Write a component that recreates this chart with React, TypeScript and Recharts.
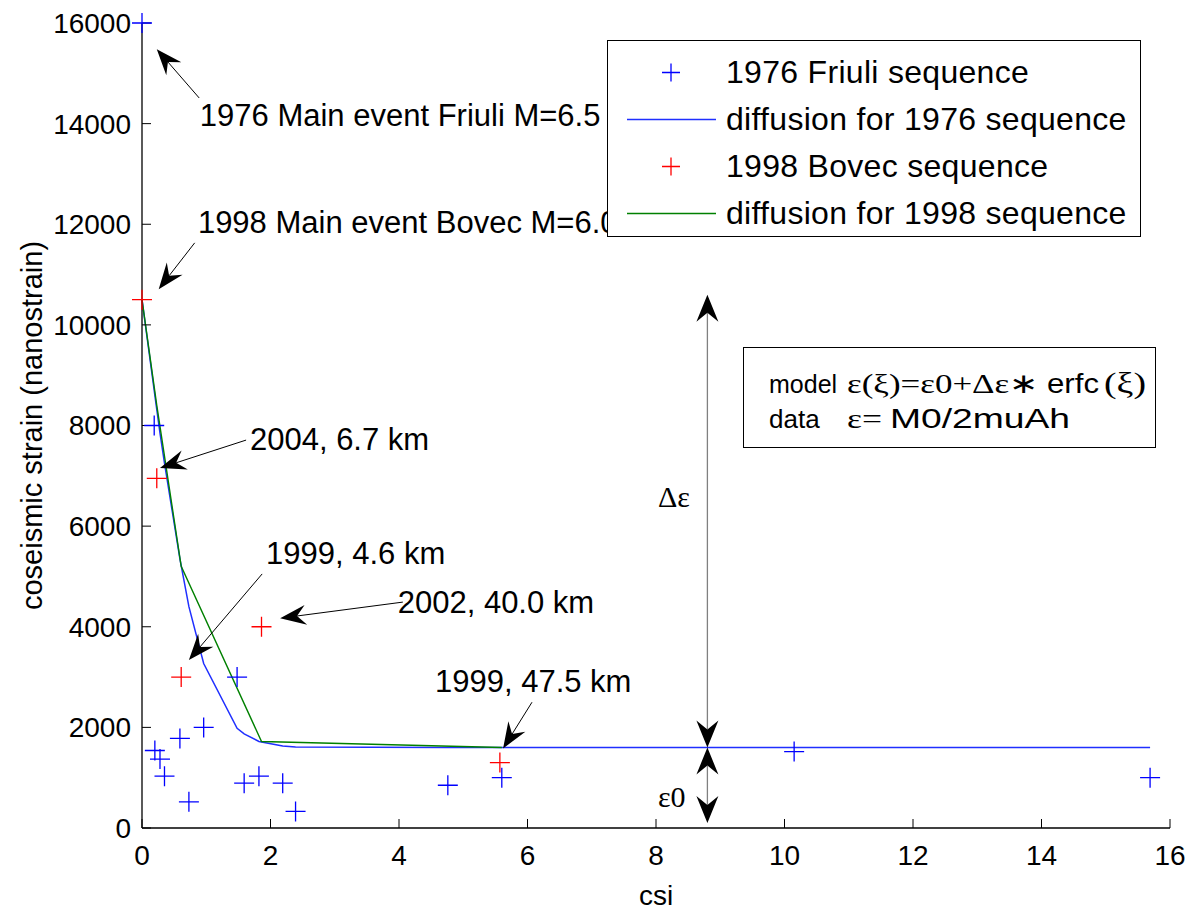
import React from "react";
import {
  ComposedChart,
  Line,
  Scatter,
  XAxis,
  YAxis,
  Legend,
  ReferenceLine,
  ReferenceDot,
} from "recharts";

const SANS = "Arial, 'Liberation Sans', Helvetica, sans-serif";
const SERIF = "'Times New Roman', 'Liberation Serif', Times, serif";

const xTicks = [0, 2, 4, 6, 8, 10, 12, 14, 16];
const yTicks = [0, 2000, 4000, 6000, 8000, 10000, 12000, 14000, 16000];

// 1976 Friuli sequence (blue crosses)
const friuliCsi = [0, 0.19, 1.48, 0.96, 0.59, 0.2, 0.28, 0.35, 0.73, 1.59, 1.82, 2.19, 2.39, 4.76, 5.6, 10.15, 15.69];
const friuliStrain = [16000, 8000, 3000, 2000, 1780, 1540, 1370, 1030, 520, 890, 1030, 890, 330, 850, 1000, 1520, 1000];

// 1998 Bovec sequence (red crosses)
const bovecCsi = [0, 0.23, 0.61, 1.86, 5.57];
const bovecStrain = [10500, 6950, 3000, 4000, 1300];

// diffusion model curves
const fit1976Csi = [0, 0.19, 0.2, 0.28, 0.35, 0.59, 0.73, 0.96, 1.48, 1.59, 1.82, 2.19, 2.39, 4.76, 5.6, 10.15, 15.69];
const fit1976Strain = [10500, 8700, 8600, 7850, 7250, 5350, 4400, 3270, 1980, 1870, 1720, 1630, 1610, 1600, 1600, 1600, 1600];
const fit1998Csi = [0, 0.23, 0.61, 1.86, 5.6];
const fit1998Strain = [10500, 8400, 5200, 1720, 1600];

// annotations, in data units
const noteText = [
  "1976 Main event Friuli M=6.5",
  "1998 Main event Bovec M=6.0",
  "2004, 6.7 km",
  "1999, 4.6 km",
  "2002, 40.0 km",
  "1999, 47.5 km",
];
const noteAt = [[0.9, 13950], [0.87, 11830], [1.68, 7510], [1.93, 5250], [3.98, 4270], [4.56, 2700]];
const arrowFrom = [[0.89, 14510], [0.82, 11630], [1.62, 7710], [1.87, 5050], [4.06, 4490], [6.07, 2500]];
const arrowTo = [[0.23, 15480], [0.26, 10710], [0.28, 7155], [0.73, 3340], [2.15, 4170], [5.62, 1580]];

const gapCsi = 8.8;
const deltaSpan = [1600, 10600];
const baseSpan = [1600, 100];

const legendOrder = [
  "1976 Friuli sequence",
  "diffusion for 1976 sequence",
  "1998 Bovec sequence",
  "diffusion for 1998 sequence",
];

const pts = (xs: number[], ys: number[]) => xs.map((x, i) => ({ x, y: ys[i] }));

function cross(cx: number, cy: number, color: string, half: number) {
  return (
    <path
      d={`M${cx - half},${cy}H${cx + half}M${cx},${cy - half}V${cy + half}`}
      stroke={color}
      strokeWidth={1.3}
      fill="none"
    />
  );
}

function head(x1: number, y1: number, x2: number, y2: number, len = 26, half = 10, notch = 17) {
  const dx = x2 - x1;
  const dy = y2 - y1;
  const d = Math.hypot(dx, dy) || 1;
  const ux = dx / d;
  const uy = dy / d;
  const nx = -uy;
  const ny = ux;
  const bx = x2 - ux * len;
  const by = y2 - uy * len;
  const mx = x2 - ux * notch;
  const my = y2 - uy * notch;
  return {
    poly: `${x2},${y2} ${bx + nx * half},${by + ny * half} ${mx},${my} ${bx - nx * half},${by - ny * half}`,
    mx,
    my,
  };
}

const arrowShape = (p: any) => {
  const h = head(p.x1, p.y1, p.x2, p.y2);
  return (
    <g>
      <line x1={p.x1} y1={p.y1} x2={h.mx} y2={h.my} stroke="#000" strokeWidth={1} />
      <polygon points={h.poly} fill="#000" />
    </g>
  );
};

const doubleArrowShape = (p: any) => {
  const a = head(p.x1, p.y1, p.x2, p.y2, 27, 11, 18);
  const b = head(p.x2, p.y2, p.x1, p.y1, 27, 11, 18);
  return (
    <g>
      <line x1={b.mx} y1={b.my} x2={a.mx} y2={a.my} stroke="#808080" strokeWidth={1.3} />
      <polygon points={a.poly} fill="#000" />
      <polygon points={b.poly} fill="#000" />
    </g>
  );
};

const textShape = (label: string, size: number, family: string) => (p: any) => (
  <text x={p.cx} y={p.cy} fontSize={size} fontFamily={family} fill="#000">
    {label}
  </text>
);

const renderLegend = (props: any) => {
  const payload: any[] = props.payload ?? [];
  const items = legendOrder
    .map((name) => payload.find((p) => p.value === name))
    .filter(Boolean);
  return (
    <div
      style={{
        width: 534,
        height: 197,
        boxSizing: "border-box",
        border: "1px solid #000",
        background: "#fff",
        paddingTop: 8,
        fontFamily: SANS,
        fontSize: 32,
        letterSpacing: 0.3,
        color: "#000",
      }}
    >
      {items.map((item: any) => (
        <div key={item.value} style={{ display: "flex", alignItems: "center", height: 47 }}>
          <svg width={118} height={47} style={{ flex: "none" }}>
            {item.type === "line" ? (
              <line x1={19} y1={23.5} x2={108} y2={23.5} stroke={item.color} strokeWidth={1.5} />
            ) : (
              cross(63, 23.5, item.color, 9)
            )}
          </svg>
          <span style={{ whiteSpace: "nowrap" }}>{item.value}</span>
        </div>
      ))}
    </div>
  );
};

export default function App() {
  const tickStyle = { fontSize: 28, fontFamily: SANS, fill: "#000" };
  return (
    <div style={{ position: "relative", width: 1185, height: 903, background: "#fff" }}>
      <ComposedChart width={1185} height={903} margin={{ top: 15, right: 23, bottom: 0, left: 0 }}>
        <XAxis
          type="number"
          dataKey="x"
          domain={[0, 16]}
          ticks={xTicks}
          interval={0}
          height={83}
          tickSize={-9}
          tickMargin={26}
          tick={tickStyle}
          axisLine={{ stroke: "#000", strokeWidth: 1.3 }}
          tickLine={{ stroke: "#000" }}
          label={{
            content: (lp: any) => (
              <text
                x={lp.viewBox.x + lp.viewBox.width / 2}
                y={lp.viewBox.y + 77}
                textAnchor="middle"
                fontSize={28}
                fontFamily={SANS}
                fill="#000"
              >
                csi
              </text>
            ),
          }}
        />
        <XAxis
          xAxisId="top"
          orientation="top"
          type="number"
          domain={[0, 16]}
          ticks={xTicks}
          interval={0}
          height={0}
          tickSize={-9}
          tick={false}
          axisLine={{ stroke: "#000", strokeWidth: 1.3 }}
          tickLine={{ stroke: "#000" }}
        />
        <YAxis
          type="number"
          dataKey="y"
          domain={[0, 16000]}
          ticks={yTicks}
          interval={0}
          width={134}
          tickSize={-9}
          tickMargin={20}
          tick={tickStyle}
          axisLine={{ stroke: "#000", strokeWidth: 1.3 }}
          tickLine={{ stroke: "#000" }}
          label={{
            content: (lp: any) => {
              const cx = 24;
              const cy = lp.viewBox.y + lp.viewBox.height / 2;
              return (
                <text
                  x={cx}
                  y={cy}
                  transform={`rotate(-90, ${cx}, ${cy})`}
                  textAnchor="middle"
                  dominantBaseline="central"
                  fontSize={29}
                  fontFamily={SANS}
                  fill="#000"
                >
                  coseismic strain (nanostrain)
                </text>
              );
            },
          }}
        />
        <YAxis
          yAxisId="right"
          orientation="right"
          type="number"
          domain={[0, 16000]}
          ticks={yTicks}
          interval={0}
          width={0}
          tickSize={-9}
          tick={false}
          axisLine={{ stroke: "#000", strokeWidth: 1.3 }}
          tickLine={{ stroke: "#000" }}
        />

        <Scatter
          name="1976 Friuli sequence"
          data={pts(friuliCsi, friuliStrain)}
          fill="#0000ff"
          legendType="cross"
          isAnimationActive={false}
          shape={(p: any) => cross(p.cx, p.cy, "#0000ff", 10)}
        />
        <Line
          name="diffusion for 1976 sequence"
          data={pts(fit1976Csi, fit1976Strain)}
          dataKey="y"
          type="linear"
          stroke="#1f2fff"
          strokeWidth={1.5}
          dot={false}
          legendType="line"
          isAnimationActive={false}
        />
        <Scatter
          name="1998 Bovec sequence"
          data={pts(bovecCsi, bovecStrain)}
          fill="#ff0000"
          legendType="cross"
          isAnimationActive={false}
          shape={(p: any) => cross(p.cx, p.cy, "#ff0000", 10)}
        />
        <Line
          name="diffusion for 1998 sequence"
          data={pts(fit1998Csi, fit1998Strain)}
          dataKey="y"
          type="linear"
          stroke="#008000"
          strokeWidth={1.4}
          dot={false}
          legendType="line"
          isAnimationActive={false}
        />

        {noteText.map((t, i) => (
          <ReferenceLine
            key={`arrow-${i}`}
            segment={[
              { x: arrowFrom[i][0], y: arrowFrom[i][1] },
              { x: arrowTo[i][0], y: arrowTo[i][1] },
            ]}
            ifOverflow="visible"
            shape={arrowShape}
          />
        ))}
        {noteText.map((t, i) => (
          <ReferenceDot
            key={`note-${i}`}
            x={noteAt[i][0]}
            y={noteAt[i][1]}
            r={0}
            ifOverflow="visible"
            shape={textShape(t, 31, SANS)}
          />
        ))}

        <ReferenceLine
          segment={[
            { x: gapCsi, y: deltaSpan[0] },
            { x: gapCsi, y: deltaSpan[1] },
          ]}
          ifOverflow="visible"
          shape={doubleArrowShape}
        />
        <ReferenceLine
          segment={[
            { x: gapCsi, y: baseSpan[0] },
            { x: gapCsi, y: baseSpan[1] },
          ]}
          ifOverflow="visible"
          shape={doubleArrowShape}
        />
        <ReferenceDot x={8.03} y={6380} r={0} ifOverflow="visible" shape={textShape("Δε", 30, SERIF)} />
        <ReferenceDot x={8.03} y={417} r={0} ifOverflow="visible" shape={textShape("ε0", 30, SERIF)} />

        <Legend
          layout="horizontal"
          verticalAlign="middle"
          align="center"
          content={renderLegend}
          wrapperStyle={{ left: 599, top: 32, width: 534, height: 197 }}
        />
      </ComposedChart>

      <svg
        width={413}
        height={101}
        style={{ position: "absolute", left: 735, top: 339 }}
      >
        <rect x={0.5} y={0.5} width={412} height={100} fill="#fff" stroke="#000" />
        <text x={26} y={46} fontSize={25} fontFamily={SANS} fill="#000">
          model
        </text>
        <text x={104} y={46} fontSize={28} fontFamily={SERIF} fill="#000" textLength={191} lengthAdjust="spacingAndGlyphs">
          ε(ξ)=ε0+Δε∗
        </text>
        <text x={304} y={46} fontSize={27} fontFamily={SANS} fill="#000" textLength={52} lengthAdjust="spacingAndGlyphs">
          erfc
        </text>
        <text x={361} y={46} fontSize={29} fontFamily={SERIF} fill="#000" textLength={42} lengthAdjust="spacingAndGlyphs">
          (ξ)
        </text>
        <text x={26} y={81} fontSize={26} fontFamily={SANS} fill="#000">
          data
        </text>
        <text x={104} y={81} fontSize={28} fontFamily={SERIF} fill="#000" textLength={35} lengthAdjust="spacingAndGlyphs">
          ε=
        </text>
        <text x={147} y={81} fontSize={27} fontFamily={SANS} fill="#000" textLength={180} lengthAdjust="spacingAndGlyphs">
          M0/2muAh
        </text>
      </svg>
    </div>
  );
}
